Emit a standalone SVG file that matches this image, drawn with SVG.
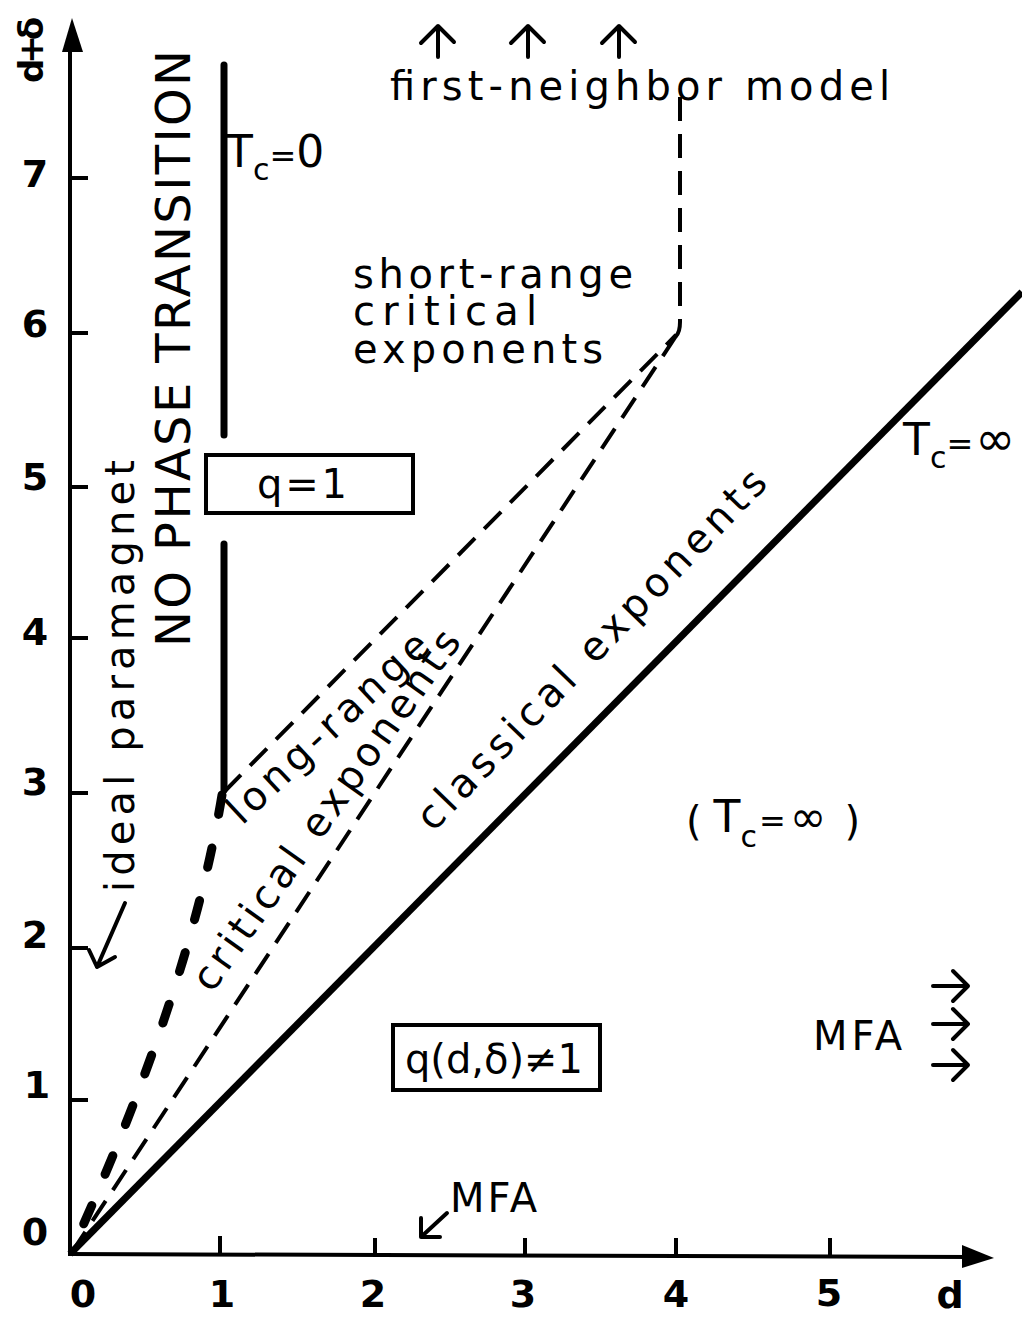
<svg xmlns="http://www.w3.org/2000/svg" width="1022" height="1319" viewBox="0 0 1022 1319">
<style>
  text { font-family: "DejaVu Sans", "Liberation Sans", sans-serif; fill: #000; }
  .lbl { font-size: 40px; }
  .big { font-size: 48px; }
  .num { font-size: 38px; font-weight: bold; }
  .tc { font-size: 44px; }
  .sub { font-size: 30px; }
  .eq { font-size: 32px; }
  .inf { font-size: 48px; }
  .ax { stroke: #000; stroke-width: 4; fill: none; }
  .tick { stroke: #000; stroke-width: 4; }
  .thin { stroke: #000; stroke-width: 4; fill: none; stroke-dasharray: 24 13; }
  .thick { stroke: #000; stroke-width: 9; fill: none; stroke-dasharray: 20 34; stroke-linecap: round; }
  .solid { stroke: #000; stroke-width: 7; fill: none; }
  .bar { stroke: #000; stroke-width: 7; fill: none; stroke-linecap: round; }
  .box { fill: none; stroke: #000; stroke-width: 4; }
  .arr { stroke: #000; stroke-width: 4; fill: none; stroke-linecap: round; stroke-linejoin: round; }
</style>
<rect width="1022" height="1319" fill="#fff"/>

<g id="axes">
  <line class="ax" x1="70" y1="1255" x2="70" y2="45"/>
  <polygon points="62,52 72,18 83,52" fill="#000"/>
  <line class="ax" x1="68" y1="1254" x2="970" y2="1257"/>
  <polygon points="962,1245 994,1258 962,1268" fill="#000"/>
  <g class="tick">
    <line x1="70" y1="178" x2="88" y2="178"/>
    <line x1="70" y1="333" x2="88" y2="333"/>
    <line x1="70" y1="487" x2="88" y2="487"/>
    <line x1="70" y1="638" x2="88" y2="638"/>
    <line x1="70" y1="793" x2="88" y2="793"/>
    <line x1="70" y1="948" x2="88" y2="948"/>
    <line x1="70" y1="1100" x2="88" y2="1100"/>
    <line x1="220" y1="1254" x2="220" y2="1236"/>
    <line x1="375" y1="1255" x2="375" y2="1238"/>
    <line x1="525" y1="1255" x2="525" y2="1238"/>
    <line x1="676" y1="1256" x2="676" y2="1238"/>
    <line x1="830" y1="1256" x2="830" y2="1238"/>
  </g>
  <g class="num" text-anchor="middle">
    <text x="35" y="187">7</text>
    <text x="35" y="337">6</text>
    <text x="35" y="490">5</text>
    <text x="35" y="645">4</text>
    <text x="35" y="795">3</text>
    <text x="35" y="948">2</text>
    <text x="37" y="1098">1</text>
    <text x="35" y="1245">0</text>
    <text x="83" y="1307">0</text>
    <text x="222" y="1307">1</text>
    <text x="373" y="1307">2</text>
    <text x="523" y="1307">3</text>
    <text x="676" y="1307">4</text>
    <text x="829" y="1306">5</text>
    <text x="950" y="1308">d</text>
  </g>
  <text id="yaxis-label" transform="translate(43,83) rotate(-90)" style="font-size:34px;font-weight:bold" textLength="66">d+δ</text>
</g>

<g id="connectors">
  <line id="classical-line" class="solid" x1="70" y1="1254" x2="1022" y2="292"/>
  <line id="tc0-upper" class="bar" x1="224" y1="65" x2="224" y2="435"/>
  <line id="tc0-lower" class="bar" x1="224" y1="544" x2="224" y2="790"/>
  <path id="thick-dashed" class="thick" d="M222,795 Q189.6,991 72,1250"/>
  <line id="longrange-upper" class="thin" x1="224" y1="792" x2="676" y2="335"/>
  <line id="longrange-lower" class="thin" x1="676" y1="336" x2="72" y2="1252"/>
  <path id="shortrange-vertical" class="thin" d="M680,97 L680,322 Q680,332 676,336"/>
  <g class="arr">
    <path d="M438,57 L438,26 M421,43 L438,26 L454,42"/>
    <path d="M528,57 L528,26 M511,43 L528,26 L544,42"/>
    <path d="M619,57 L619,26 M602,43 L619,26 L635,42"/>
    <path d="M125,903 L97,967 M89,950 L97,967 L115,957"/>
    <path d="M447,1213 L421,1237 M421,1218 L421,1237 L440,1237"/>
    <path d="M933,986 L967,986 M953,971 L968,986 L953,1001"/>
    <path d="M933,1024 L967,1024 M953,1009 L968,1024 L953,1039"/>
    <path d="M933,1065 L967,1065 M953,1050 L968,1065 L953,1080"/>
  </g>
</g>

<g id="first-neighbor">
  <text class="lbl" x="390" y="100" textLength="500">first-neighbor model</text>
</g>
<g id="short-range">
  <text class="lbl" x="353" y="288" textLength="280">short-range</text>
  <text class="lbl" x="353" y="325" textLength="184">critical</text>
  <text class="lbl" x="353" y="363" textLength="250">exponents</text>
</g>
<g id="no-phase-transition">
  <text class="big" transform="translate(190,647) rotate(-90)" textLength="597">NO PHASE TRANSITION</text>
</g>
<g id="ideal-paramagnet">
  <text class="lbl" transform="translate(134,892) rotate(-90)" textLength="432">ideal paramagnet</text>
</g>
<g id="tc-zero">
  <text class="tc" x="226" y="167">T<tspan class="sub" dy="13">c</tspan><tspan class="eq" dy="-13">=</tspan><tspan>0</tspan></text>
</g>
<g id="q-one">
  <rect class="box" x="206" y="455" width="207" height="58"/>
  <text class="lbl" x="257" y="498" textLength="90">q = 1</text>
</g>
<g id="q-not-one">
  <rect class="box" x="393" y="1025" width="207" height="65"/>
  <text class="lbl" x="405" y="1073" textLength="178">q(d,δ)≠1</text>
</g>
<g id="long-range">
  <text class="lbl" transform="translate(242,826) rotate(-43)" textLength="260">long-range</text>
</g>
<g id="critical-exponents">
  <text class="lbl" transform="translate(212,994) rotate(-54.6)" textLength="432">critical exponents</text>
</g>
<g id="classical-exponents">
  <text class="lbl" transform="translate(433,833) rotate(-46)" textLength="484">classical exponents</text>
</g>
<g id="tc-infinity-line">
  <text class="tc" x="903" y="455">T<tspan class="sub" dy="13">c</tspan><tspan class="eq" dy="-13">=</tspan><tspan class="inf" dx="2">∞</tspan></text>
</g>
<g id="tc-infinity-region">
  <text class="lbl" x="686" y="835">(<tspan class="tc" dx="12" dy="-3">T</tspan><tspan class="sub" dy="15">c</tspan><tspan class="eq" dx="2" dy="-15">=</tspan><tspan class="tc" dx="4">∞</tspan><tspan dx="18" dy="3">)</tspan></text>
</g>
<g id="mfa-right">
  <text class="lbl" x="813" y="1050" textLength="89">MFA</text>
</g>
<g id="mfa-bottom">
  <text class="lbl" x="450" y="1212" textLength="87">MFA</text>
</g>
</svg>
